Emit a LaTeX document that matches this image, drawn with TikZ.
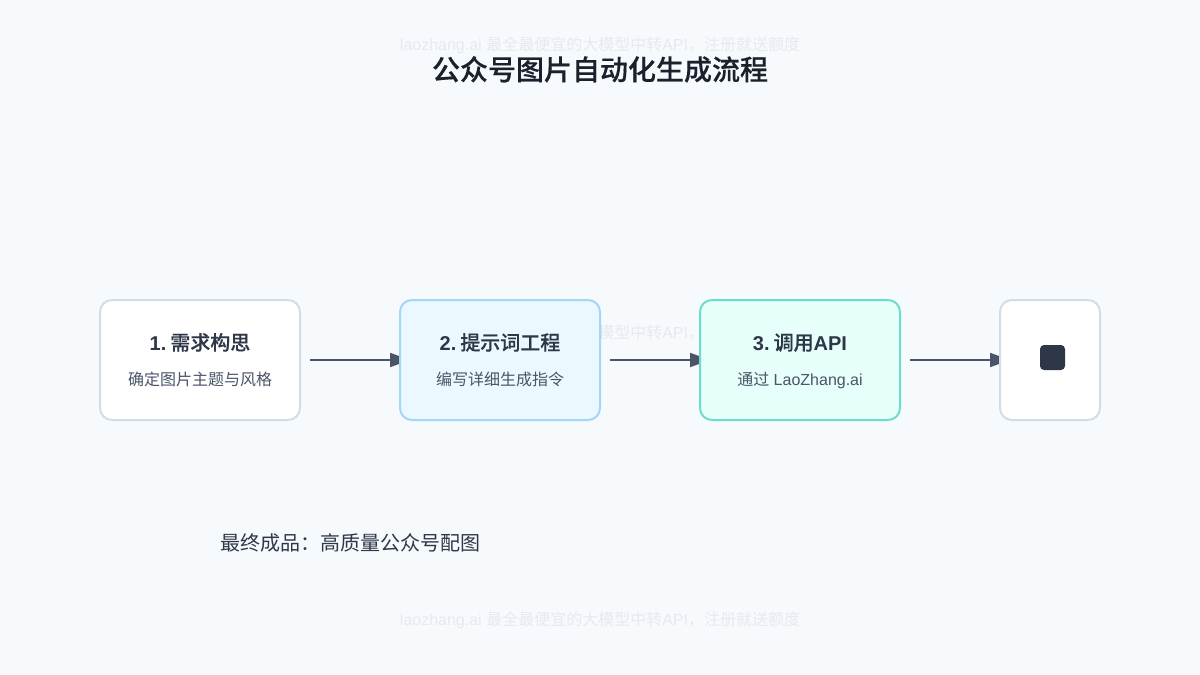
\documentclass[tikz,border=0pt]{standalone}
\usepackage{fontspec}
\usepackage{xcolor}
\setmainfont{Noto Sans CJK SC}[BoldFont={Noto Sans CJK SC Medium}, BoldFeatures={FakeBold=0.3}]
\newfontfamily\latinfont{Liberation Sans}
\usetikzlibrary{arrows.meta}
\definecolor{pagebg}{HTML}{F7FAFD}
\definecolor{titleink}{HTML}{1A202C}
\definecolor{boxink}{HTML}{2D3748}
\definecolor{subink}{HTML}{4A5568}
\definecolor{markink}{HTML}{E6E9ED}
\definecolor{plainedge}{HTML}{D3DDE8}
\definecolor{blueedge}{HTML}{A3D7F7}
\definecolor{bluefill}{HTML}{EBF8FF}
\definecolor{tealedge}{HTML}{6EDBCE}
\definecolor{tealfill}{HTML}{E6FFFA}
\pgfdeclarelayer{under}
\pgfsetlayers{under,main}
\tikzset{
    card/.style={rectangle, draw=#1, line width=2pt, rounded corners=12pt, inner sep=0pt, outer sep=0pt, minimum height=120pt},
    cardhead/.style={anchor=base, inner sep=0pt, text=boxink, font=\fontsize{20}{24}\selectfont\bfseries},
    cardsub/.style={anchor=base, inner sep=0pt, text=subink, font=\fontsize{16}{20}\selectfont},
    watermark/.style={anchor=base, inner sep=0pt, text=markink, font=\fontsize{16}{20}\selectfont},
    flow/.style={-{Triangle[length=20pt, width=14pt]}, line width=2pt, subink}
}

\begin{document}
\begin{tikzpicture}[x=1pt, y=-1pt]
        \useasboundingbox (0,0) rectangle (1200,675);

        % Nodes
        \node[card=plainedge, fill=white, minimum width=200pt] (need) at (200,360) {};
        \node[card=blueedge, fill=bluefill, minimum width=200pt] (prompt) at (500,360) {};
        \node[card=tealedge, fill=tealfill, minimum width=200pt] (api) at (800,360) {};
        \node[card=plainedge, fill=white, minimum width=100pt] (result) at (1050,360) {};
        \node[rectangle, fill=boxink, rounded corners=4pt, minimum size=25pt, inner sep=0pt] (icon) at (1052.5,357.5) {};

        \node[cardhead] (needhead) at (200,350) {{\latinfont 1.}\hspace{4pt}需求构思};
        \node[cardsub] (needsub) at (200,385) {确定图片主题与风格};
        \node[cardhead] (prompthead) at (500,350) {{\latinfont 2.}\hspace{4pt}提示词工程};
        \node[cardsub] (promptsub) at (500,385) {编写详细生成指令};
        \node[cardhead] (apihead) at (800,350) {{\latinfont 3.}\hspace{4pt}调用{\latinfont API}};
        \node[cardsub] (apisub) at (800,385) {通过{\latinfont\ LaoZhang.ai}};

        \node[anchor=base, inner sep=0pt, text=titleink, font=\fontsize{28}{34}\selectfont\bfseries] (title) at (600,80) {公众号图片自动化生成流程};
        \node[anchor=base, inner sep=0pt, text=boxink, font=\fontsize{20}{24}\selectfont] (final) at (350,550) {最终成品：高质量公众号配图};

        % Edges
        \begin{pgfonlayer}{under}
        \fill[pagebg] (0,0) rectangle (1200,675);
        \node[watermark] (marktop) at (600,50) {{\latinfont laozhang.ai }最全最便宜的大模型中转{\latinfont API}，注册就送额度};
        \node[watermark] (markmid) at (600,338) {{\latinfont laozhang.ai }最全最便宜的大模型中转{\latinfont API}，注册就送额度};
        \node[watermark] (markbot) at (600,625) {{\latinfont laozhang.ai }最全最便宜的大模型中转{\latinfont API}，注册就送额度};
        \draw[flow] ([xshift=10pt]need.east) -- ([xshift=10pt]prompt.west);
        \draw[flow] ([xshift=10pt]prompt.east) -- ([xshift=10pt]api.west);
        \draw[flow] ([xshift=10pt]api.east) -- ([xshift=10pt]result.west);
        \end{pgfonlayer}

    \end{tikzpicture}
\end{document}
